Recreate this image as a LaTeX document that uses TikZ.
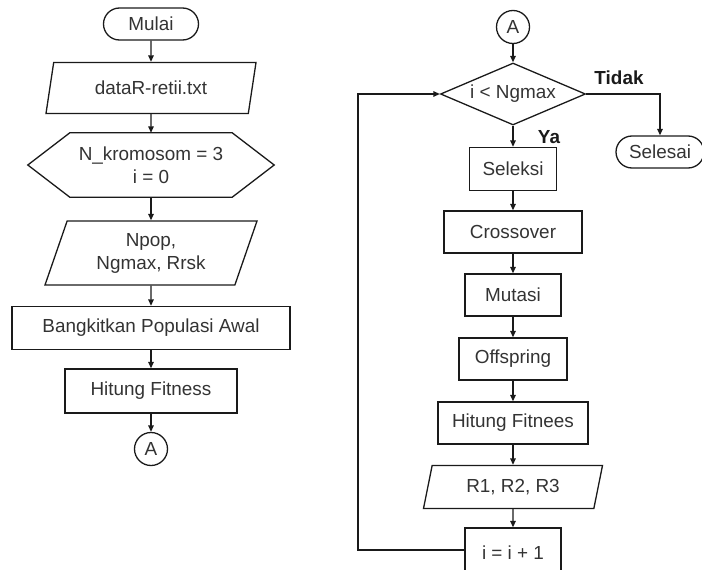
\documentclass[tikz,border=0pt]{standalone}
\usepackage{fontspec}
\setmainfont{Liberation Sans}
\usetikzlibrary{positioning,arrows.meta,calc,shapes.geometric,shapes.misc}
\definecolor{linedark}{HTML}{1A1A1A}
\definecolor{textdark}{HTML}{333333}

\begin{document}
\begin{tikzpicture}[x=1pt,y=-1pt,
    every node/.style={font=\fontsize{18.9}{23}\selectfont,color=textdark,inner sep=0pt},
    base/.style={draw=linedark,line width=1.3pt},
    proses/.style={base,rectangle,minimum height=43pt},
    mulaiakhir/.style={base,rounded rectangle,minimum height=32pt},
    dataio/.style={base,trapezium,trapezium left angle=61,trapezium right angle=119,
      trapezium stretches body,align=center},
    siapan/.style={rectangle,align=center,minimum height=64pt},
    keputusan/.style={base,diamond,shape aspect=2.3},
    konektor/.style={base,circle,minimum size=33pt},
    ket/.style={font=\fontsize{18.9}{23}\selectfont\bfseries,color=linedark},
    arr/.style={linedark,line width=1.3pt,-{Triangle[length=6.5pt,width=5.5pt]}}]
        \useasboundingbox (0,0) rectangle (702,570);
        \clip (0,0) rectangle (702,570);
        % Columna izquierda
        \node[mulaiakhir,minimum width=95pt] (mulai) at (151,24) {Mulai};
        \node[dataio,minimum width=210pt,minimum height=51pt] (data) at (151,88) {dataR-retii.txt};
        \node[siapan,minimum width=162pt] (init) at (151,165) {N\_kromosom = 3\\i = 0};
        \draw[base] (init.north west) -- (init.north east) -- ($(init.east)+(42,0)$)
          -- (init.south east) -- (init.south west) -- ($(init.west)+(-42,0)$) -- cycle;
        \node[dataio,minimum width=212pt,minimum height=64pt] (param) at (151,253) {Npop,\\Ngmax, Rrsk};
        \node[proses,minimum width=278pt] (bangkit) at (151,328) {Bangkitkan Populasi Awal};
        \node[proses,minimum width=172pt,minimum height=44pt] (hitung) at (151,391) {Hitung Fitness};
        \node[konektor] (a1) at (151,449) {A};
        % Columna derecha
        \node[konektor] (a2) at (513,27) {A};
        \node[keputusan,minimum width=145pt,minimum height=62pt] (cek) at (513,94) {i < Ngmax};
        \node[mulaiakhir,minimum width=88pt] (selesai) at (660,152) {Selesai};
        \node[proses,minimum width=87pt] (seleksi) at (513,169) {Seleksi};
        \node[proses,minimum width=138pt,minimum height=42pt] (cross) at (513,232) {Crossover};
        \node[proses,minimum width=96pt,minimum height=42pt] (mutasi) at (513,295) {Mutasi};
        \node[proses,minimum width=108pt,minimum height=42pt] (offspring) at (513,359) {Offspring};
        \node[proses,minimum width=150pt,minimum height=42pt] (hitung2) at (513,423) {Hitung Fitnees};
        \node[dataio,minimum width=179pt,minimum height=43pt] (hasil) at (513,487) {R1, R2, R3};
        \node[proses,minimum width=96pt,minimum height=56pt] (inkremen) at (513,556) {\raisebox{6pt}{i = i + 1}};
        \coordinate (balik) at (358,550);
        % Etiquetas
        \node[ket] (tidak) at (619,78) {Tidak};
        \node[ket] (ya) at (549,137) {Ya};
        % Flechas
        \foreach \a/\b in {mulai/data,data/init,init/param,param/bangkit,bangkit/hitung,hitung/a1,
          a2/cek,cek/seleksi,seleksi/cross,cross/mutasi,mutasi/offspring,offspring/hitung2,
          hitung2/hasil,hasil/inkremen}{
          \draw[arr](\a)--(\b);}
        \draw[arr](cek.east)-|(selesai.north);
        \draw[arr](inkremen.west|-balik)--(balik)|-(cek.west);
      \end{tikzpicture}
\end{document}
